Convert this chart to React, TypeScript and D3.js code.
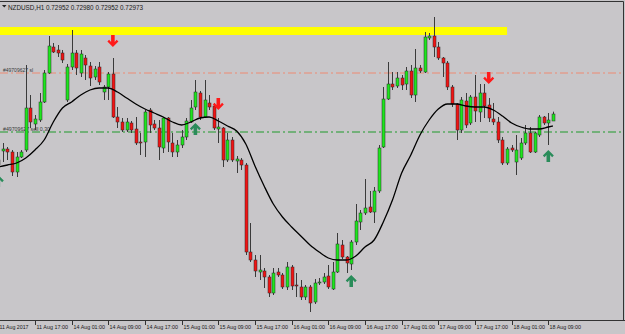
import React from "react";
import * as d3 from "d3";

// ---- data (NZDUSD H1) ----
const symbolTitle = "NZDUSD,H1";
const open = [0.72835,0.72862,0.72868,0.72859,0.72799,0.72844,0.72865,0.72991,0.72943,0.72955,0.73009,0.73096,0.73174,0.73165,0.73156,0.73015,0.73114,0.73156,0.73096,0.73141,0.73117,0.73084,0.73114,0.73039,0.73054,0.73093,0.72964,0.72949,0.72925,0.72946,0.72928,0.72889,0.72889,0.72985,0.72943,0.72931,0.72871,0.72961,0.72886,0.72859,0.72880,0.72904,0.72949,0.72994,0.73036,0.72964,0.73006,0.72997,0.72928,0.72931,0.72835,0.72895,0.72832,0.72835,0.72820,0.72559,0.72535,0.72499,0.72502,0.72484,0.72436,0.72499,0.72490,0.72454,0.72514,0.72460,0.72454,0.72424,0.72454,0.72409,0.72466,0.72469,0.72487,0.72448,0.72499,0.72580,0.72544,0.72523,0.72589,0.72649,0.72676,0.72694,0.72679,0.72742,0.72874,0.73018,0.73063,0.73057,0.73081,0.73063,0.73102,0.73030,0.73111,0.73099,0.73201,0.73207,0.73174,0.73141,0.73126,0.73054,0.73003,0.72925,0.73012,0.72946,0.73024,0.72979,0.73036,0.73000,0.72958,0.72949,0.72895,0.72826,0.72871,0.72829,0.72841,0.72886,0.72916,0.72859,0.72910,0.72964,0.72946,0.72952];
const high = [0.72844,0.72886,0.72874,0.72865,0.72859,0.72865,0.73120,0.73030,0.72970,0.73036,0.73105,0.73207,0.73186,0.73180,0.73165,0.73123,0.73225,0.73165,0.73165,0.73150,0.73129,0.73117,0.73129,0.73060,0.73099,0.73141,0.72994,0.72961,0.72961,0.72952,0.72964,0.72916,0.72985,0.72991,0.72955,0.72955,0.72964,0.72964,0.72916,0.72895,0.72925,0.72961,0.73015,0.73075,0.73042,0.73075,0.73030,0.73006,0.72961,0.72934,0.72916,0.72904,0.72847,0.72841,0.72826,0.72646,0.72550,0.72550,0.72511,0.72490,0.72511,0.72511,0.72496,0.72529,0.72520,0.72496,0.72475,0.72460,0.72460,0.72478,0.72481,0.72496,0.72520,0.72529,0.72616,0.72595,0.72547,0.72595,0.72703,0.72685,0.72778,0.72742,0.72754,0.72880,0.73054,0.73129,0.73099,0.73099,0.73090,0.73114,0.73120,0.73168,0.73120,0.73219,0.73216,0.73264,0.73189,0.73144,0.73132,0.73060,0.73006,0.73024,0.73036,0.73030,0.73090,0.73063,0.73063,0.73021,0.73006,0.72964,0.72904,0.72874,0.72880,0.72910,0.72901,0.72940,0.72934,0.72919,0.72970,0.72967,0.72976,0.72980];
const low = [0.72811,0.72829,0.72835,0.72787,0.72784,0.72841,0.72859,0.72931,0.72925,0.72949,0.73006,0.73093,0.73156,0.73144,0.73126,0.73009,0.73105,0.73090,0.73084,0.73075,0.73057,0.73075,0.73060,0.73015,0.73015,0.72961,0.72931,0.72919,0.72919,0.72916,0.72880,0.72850,0.72844,0.72916,0.72925,0.72835,0.72856,0.72859,0.72844,0.72844,0.72871,0.72895,0.72946,0.72985,0.72955,0.72961,0.72985,0.72925,0.72886,0.72814,0.72829,0.72829,0.72796,0.72805,0.72550,0.72529,0.72484,0.72475,0.72451,0.72424,0.72430,0.72484,0.72448,0.72445,0.72445,0.72424,0.72415,0.72415,0.72379,0.72403,0.72460,0.72463,0.72448,0.72445,0.72496,0.72538,0.72496,0.72505,0.72580,0.72625,0.72670,0.72676,0.72646,0.72736,0.72871,0.73015,0.73045,0.73051,0.73045,0.73045,0.73021,0.73009,0.73096,0.73096,0.73195,0.73144,0.73135,0.73084,0.73045,0.72994,0.72895,0.72916,0.72931,0.72940,0.72949,0.72949,0.72961,0.72949,0.72940,0.72886,0.72820,0.72820,0.72859,0.72790,0.72835,0.72880,0.72856,0.72856,0.72904,0.72940,0.72880,0.72952];
const close = [0.72820,0.72868,0.72859,0.72799,0.72844,0.72859,0.72991,0.72949,0.72958,0.73009,0.73096,0.73177,0.73159,0.73156,0.73135,0.73114,0.73156,0.73111,0.73153,0.73120,0.73081,0.73108,0.73069,0.73054,0.73093,0.72964,0.72949,0.72925,0.72949,0.72925,0.72886,0.72886,0.72979,0.72940,0.72931,0.72874,0.72961,0.72889,0.72859,0.72880,0.72904,0.72952,0.72991,0.73039,0.72964,0.73015,0.72994,0.72931,0.72934,0.72835,0.72895,0.72835,0.72838,0.72820,0.72559,0.72535,0.72502,0.72505,0.72484,0.72436,0.72496,0.72490,0.72454,0.72514,0.72457,0.72457,0.72424,0.72454,0.72406,0.72466,0.72469,0.72484,0.72454,0.72499,0.72583,0.72544,0.72526,0.72589,0.72652,0.72676,0.72691,0.72679,0.72742,0.72871,0.73018,0.73063,0.73054,0.73081,0.73060,0.73102,0.73030,0.73111,0.73102,0.73204,0.73207,0.73174,0.73141,0.73126,0.73054,0.73003,0.72925,0.73015,0.72940,0.73024,0.72982,0.73036,0.72997,0.72961,0.72949,0.72895,0.72826,0.72868,0.72865,0.72865,0.72886,0.72916,0.72859,0.72916,0.72964,0.72946,0.72955,0.72973];

const maBars = [0,2,4,6,8,10,12,14,16,18,20,22,24,26,28,30,32,34,36,38,40,42,44,46,48,50,52,54,56,58,60,62,64,66,68,70,72,74,76,78,80,82,84,86,88,90,92,94,96,98,100,102,104,106,108,110,112,114,116,118,120,121];
const maValues = [0.72814,0.72820,0.72826,0.72841,0.72865,0.72895,0.72949,0.72991,0.73009,0.73030,0.73045,0.73051,0.73051,0.73039,0.73021,0.73003,0.72988,0.72976,0.72964,0.72949,0.72940,0.72949,0.72961,0.72964,0.72952,0.72937,0.72922,0.72883,0.72817,0.72757,0.72703,0.72664,0.72634,0.72607,0.72580,0.72559,0.72541,0.72535,0.72535,0.72547,0.72574,0.72595,0.72649,0.72715,0.72796,0.72850,0.72910,0.72955,0.72988,0.73003,0.73003,0.72997,0.72994,0.72994,0.72985,0.72967,0.72946,0.72934,0.72928,0.72928,0.72934,0.72937];

const xTickBars = [0,8,16,24,32,40,48,56,64,72,80,88,96,104,112,120];
const xTickLabels = ["11 Aug 2017","11 Aug 17:00","14 Aug 01:00","14 Aug 09:00","14 Aug 17:00","15 Aug 01:00","15 Aug 09:00","15 Aug 17:00","16 Aug 01:00","16 Aug 09:00","16 Aug 17:00","17 Aug 01:00","17 Aug 09:00","17 Aug 17:00","18 Aug 01:00","18 Aug 09:00"];

const sellArrowBars = [25, 48, 107];
const sellArrowPrices = [0.73210, 0.73021, 0.73099];
const buyArrowBars = [0, 43, 77, 120];
const buyArrowPrices = [0.72790, 0.72946, 0.72490, 0.72865];

const zoneTop = 0.73234;
const zoneBottom = 0.73210;
const zoneEndBar = 111;

const slLabel = "#49709627 sl";
const entryLabelText = "#49709627 sell 0.30";
const slPrice = 0.73096;
const entryPrice = 0.72919;

// ---- layout ----
const W = 625;
const H = 334;
const plotRight = 623.5;
const plotTop = 1.5;
const plotBottom = 320.5;

const x = d3.scaleLinear().domain([0, 121]).range([-1.7, 552.9]);
const y = d3.scaleLinear().domain([0.73315, 0.72355]).range([0, 320]);

const BG = "#c8c6c9";
const BULL = "#1ee61e";
const BEAR = "#f01414";
const FONT = "'Liberation Sans', Arial, sans-serif";

const fmt = d3.format(".5f");

function downArrow(cx: number, ty: number) {
  const t = ty + 12;
  const pts = [
    [0, 0], [-5.5, -5.5], [-3.8, -7.2], [-1.8, -5], [-1.8, -12], [1.8, -12], [1.8, -5], [3.8, -7.2], [5.5, -5.5],
  ];
  return "M" + pts.map(([a, b]) => `${cx + a},${t + b}`).join("L") + "Z";
}
function upArrow(cx: number, ty: number) {
  const pts = [
    [0, 0], [-5.5, 5.5], [-3.8, 7.2], [-1.8, 5], [-1.8, 12], [1.8, 12], [1.8, 5], [3.8, 7.2], [5.5, 5.5],
  ];
  return "M" + pts.map(([a, b]) => `${cx + a},${ty + b}`).join("L") + "Z";
}

export default function App() {
  const n = close.length;
  const maLine = d3
    .line<number>()
    .x((_, i) => x(maBars[i]))
    .y((v) => y(v))
    .curve(d3.curveMonotoneX)(maValues);

  const last = n - 1;
  const title = `${symbolTitle} ${fmt(open[last])} ${fmt(high[last])} ${fmt(low[last])} ${fmt(close[last])}`;

  return (
    <svg
      width={W}
      height={H}
      style={{ position: "fixed", left: 0, top: 0, display: "block", background: BG }}
      fontFamily={FONT}
    >
      <defs>
        <clipPath id="plot">
          <rect x={0} y={plotTop} width={plotRight} height={plotBottom - plotTop} />
        </clipPath>
      </defs>
      <rect x={0} y={0} width={W} height={H} fill={BG} />

      <g clipPath="url(#plot)">
        <rect
          x={0}
          y={y(zoneTop)}
          width={x(zoneEndBar)}
          height={y(zoneBottom) - y(zoneTop)}
          fill="#ffff00"
        />
        <line x1={0} x2={plotRight} y1={y(slPrice)} y2={y(slPrice)} stroke="#ee8a72" strokeWidth={1} strokeDasharray="8 3 2 3" />
        <line x1={0} x2={plotRight} y1={y(entryPrice)} y2={y(entryPrice)} stroke="#1f9a2a" strokeWidth={1} strokeDasharray="8 3 2 3" />
        <text x={3} y={y(slPrice) - 1} fontSize={5.2} fill="#3a3a3a" textLength={30} lengthAdjust="spacingAndGlyphs">
          {slLabel}
        </text>
        <text x={3} y={y(entryPrice) - 1} fontSize={5.2} fill="#3a3a3a" textLength={47} lengthAdjust="spacingAndGlyphs">
          {entryLabelText}
        </text>

        {close.map((c, i) => {
          const o = open[i];
          const cx = Math.round(x(i)) + 0.5;
          const top = y(Math.max(o, c));
          const bot = y(Math.min(o, c));
          const h = Math.max(bot - top, 1);
          return (
            <g key={i}>
              <line x1={cx} x2={cx} y1={y(high[i])} y2={y(low[i])} stroke="#3a3a3a" strokeWidth={1} />
              <rect
                x={cx - 1.5}
                y={top}
                width={3}
                height={h}
                fill={c >= o ? BULL : BEAR}
                stroke="#2a2a2a"
                strokeWidth={0.5}
              />
            </g>
          );
        })}

        <path d={maLine || ""} fill="none" stroke="#000" strokeWidth={1.3} />

        {sellArrowBars.map((b, i) => (
          <path key={"s" + i} d={downArrow(x(b), y(sellArrowPrices[i]))} fill="#ff1a1a" />
        ))}
        {buyArrowBars.map((b, i) => (
          <path key={"b" + i} d={upArrow(x(b), y(buyArrowPrices[i]))} fill="#2a8c5a" />
        ))}
      </g>

      <line x1={0} x2={plotRight} y1={plotTop} y2={plotTop} stroke="#333" strokeWidth={1} />
      <line x1={plotRight} x2={plotRight} y1={plotTop} y2={plotBottom} stroke="#333" strokeWidth={1} />
      <line x1={0} x2={W} y1={plotBottom} y2={plotBottom} stroke="#333" strokeWidth={1} />

      <path d="M2,5 L6.5,5 L4.25,7.5 Z" fill="#222" />
      <text x={8} y={9.5} fontSize={6.5} fill="#1a1a1a" textLength={135} lengthAdjust="spacingAndGlyphs">
        {title}
      </text>

      {xTickBars.map((b, i) => {
        const tx = Math.round(x(b)) + 0.5;
        return (
          <g key={"t" + i}>
            <line x1={tx} x2={tx} y1={plotBottom} y2={plotBottom + 4.5} stroke="#333" strokeWidth={1} />
            <text
              x={tx + 1}
              y={329}
              fontSize={5.8}
              fill="#1a1a1a"
              textLength={i === 0 ? 29 : 31.5}
              lengthAdjust="spacingAndGlyphs"
            >
              {xTickLabels[i]}
            </text>
          </g>
        );
      })}
    </svg>
  );
}
